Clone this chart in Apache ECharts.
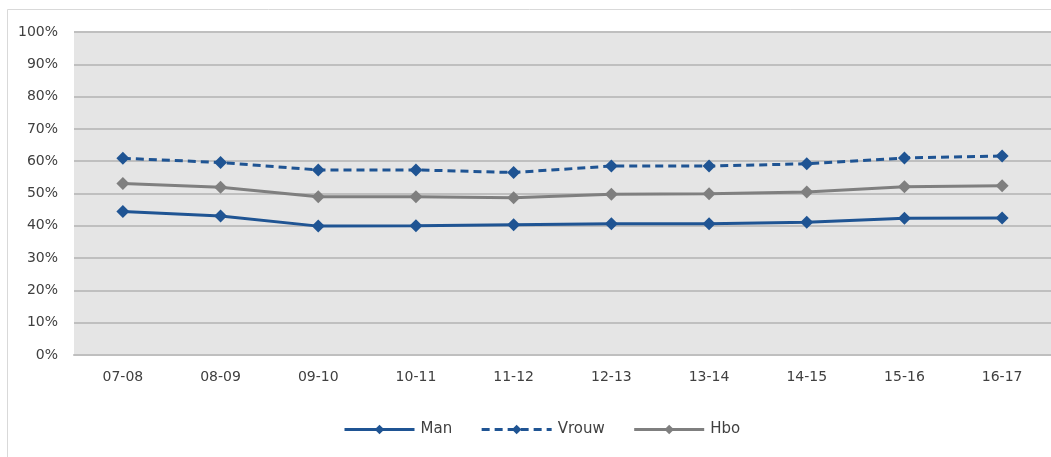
<!DOCTYPE html>
<html>
<head>
<meta charset="utf-8">
<script src="https://cdn.jsdelivr.net/npm/echarts@6/dist/echarts.min.js"></script>
<style>
html, body { margin: 0; padding: 0; background: #fff; }
#chart { width: 1051px; height: 457px; }
</style>
</head>
<body>
<div id="chart"></div>
<script>
var years = ['07-08', '08-09', '09-10', '10-11', '11-12', '12-13', '13-14', '14-15', '15-16', '16-17'];
var man = [44.4, 43.0, 39.9, 40.0, 40.3, 40.6, 40.6, 41.1, 42.3, 42.4];
var vrouw = [60.9, 59.6, 57.3, 57.3, 56.5, 58.5, 58.5, 59.2, 61.0, 61.6];
var hbo = [53.1, 51.9, 49.0, 49.0, 48.7, 49.8, 49.9, 50.5, 52.1, 52.4];

var blue = '#1F5493';
var grey = '#7F7F7F';
var font = '"DejaVu Sans", Verdana, sans-serif';

var chart = echarts.init(document.getElementById('chart'));

function serie(name, values, color, dash) {
    return {
        name: name,
        type: 'line',
        data: values,
        symbol: 'diamond',
        symbolSize: 13,
        itemStyle: { color: color },
        lineStyle: { color: color, width: 3, type: dash ? [8, 5] : 'solid' },
        animation: false
    };
}

var option = {
    backgroundColor: '#fff',
    animation: false,
    graphic: [{
        type: 'rect',
        shape: { x: 7.5, y: 9.5, width: 1060, height: 460 },
        style: { fill: 'none', stroke: '#D9D9D9', lineWidth: 1 },
        z: -1
    }],
    grid: {
        left: 74,
        top: 32,
        width: 981,
        bottom: 102,
        show: true,
        backgroundColor: '#E5E5E5',
        borderWidth: 0
    },
    legend: {
        bottom: 15,
        left: 338,
        itemWidth: 70,
        itemHeight: 12,
        itemGap: 28,
        lineStyle: { width: 3 },
        textStyle: { fontFamily: font, fontSize: 15, color: '#404040', padding: [0, 0, 0, 1] },
        data: ['Man', 'Vrouw', 'Hbo']
    },
    xAxis: {
        type: 'category',
        data: years,
        axisLine: { lineStyle: { color: '#BFBFBF', width: 2 } },
        axisTick: { show: false },
        axisLabel: { fontFamily: font, fontSize: 14, color: '#404040', margin: 15 }
    },
    yAxis: {
        type: 'value',
        min: 0,
        max: 100,
        interval: 10,
        axisLine: { show: false },
        axisTick: { show: false },
        splitLine: { lineStyle: { color: '#BFBFBF', width: 2 } },
        axisLabel: {
            fontFamily: font, fontSize: 14, color: '#404040', margin: 16,
            formatter: function (v) { return v + '%'; }
        }
    },
    series: [
        serie('Man', man, blue, false),
        serie('Vrouw', vrouw, blue, true),
        serie('Hbo', hbo, grey, false)
    ]
};

chart.setOption(option);
</script>
</body>
</html>
